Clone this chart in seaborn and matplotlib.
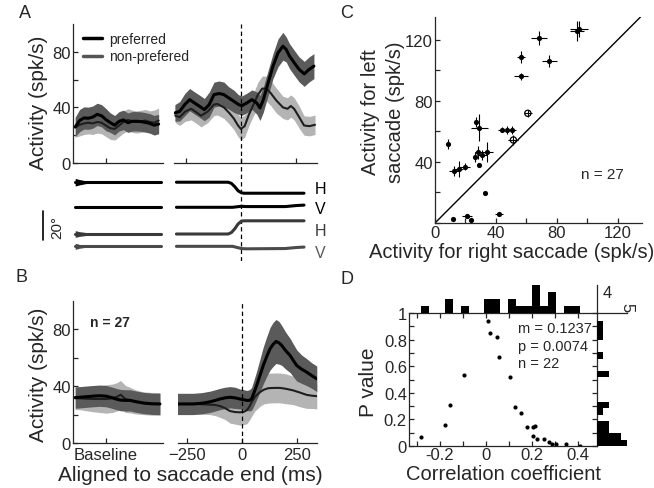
import numpy as np
import pandas as pd
import matplotlib
matplotlib.use("Agg")
import matplotlib.pyplot as plt
from matplotlib.lines import Line2D
import seaborn as sns

# ---------------- data ----------------
# A: example cell, baseline window (ms, spk/s)
a_base_t = [10, 30, 50, 70, 90, 110, 130, 150, 170, 190, 210, 230, 250, 270, 290, 310, 330, 350, 370, 390]
a_base_pref = [26, 30.5, 32.4, 32.2, 33, 35, 34, 31.2, 29, 27.2, 30, 31, 29, 30, 30, 29.8, 29.2, 28.5, 27.2, 28]
a_base_pref_sem = [7, 8, 8, 8, 8, 8, 8, 8, 7, 7, 7, 7, 7, 7, 7, 7, 7, 7, 7, 7]
a_base_nonp = [25.5, 27.5, 28.5, 29, 28.5, 29.5, 29, 27, 25, 24.5, 27, 29.5, 31, 30, 29.5, 30, 30.5, 29.5, 29, 30.5]
a_base_nonp_sem = [7, 8, 8, 8, 8, 8, 8, 8, 8, 8, 8, 8, 8, 8, 8, 8, 8, 8, 9, 9]

# A: aligned to saccade end
a_sac_t_pref = [-302, -280, -257, -235, -213, -190, -168, -146, -124, -101, -79, -57, -34, -12, 3,
                25, 48, 70, 85, 100, 122, 144, 167, 189, 204, 219, 241, 263, 286, 308, 330]
a_sac_pref = [36, 37.2, 42, 45.6, 43.2, 40.8, 38.4, 42, 49.2, 50, 49.2, 46.8, 44.4, 42, 41.3,
              43.2, 45.6, 43.2, 39.6, 45.6, 57.7, 69.7, 79.3, 84, 81.7, 76.9, 72, 67.3, 64.1, 67.3, 69.7]
a_sac_pref_sem = [6, 7, 8, 8, 8, 8, 8, 9, 9, 9, 9, 8, 8, 7, 7,
                  7, 7, 8, 9, 9, 9, 9, 10, 10, 9, 9, 9, 9, 9, 9, 9]
a_sac_t_nonp = [-300, -280, -255, -228, -200, -183, -153, -125, -109, -79, -55, -34, -15, -2, 15,
                35, 55, 75, 95, 115, 135, 159, 189, 210, 225, 240, 263, 285, 310, 335]
a_sac_nonp = [34, 33, 37, 39, 36, 34, 37, 42, 42.5, 40, 36, 32, 27, 24.5, 26.5,
              35, 42, 49, 53.5, 53.5, 50, 45, 40, 39, 41, 39, 33, 27, 26.5, 27.5]
a_sac_nonp_sem = [5, 6, 7, 8, 8, 8, 8, 8, 8, 8, 8, 8, 8, 8, 8,
                  8, 8, 9, 9, 9, 9, 9, 8, 8, 8, 8, 8, 7, 7, 7]

# A: eye position traces (deg, relative to start)
eye_base_t = [10, 30, 60, 100, 400]
eye_base_pos = [0, 0, 0, 0, 0]
eye_base_spread_h1 = [2.6, 1.8, 0.9, 0.2, 0.2]
eye_base_spread_v1 = [0.6, 0.4, 0.2, 0.1, 0.1]
eye_base_spread_h2 = [2.3, 1.6, 1.0, 0.5, 0.2]
eye_base_spread_v2 = [2.1, 1.3, 0.6, 0.2, 0.2]
eye_h_t = [-295, -60, -45, -30, -15, 0, 12, 285]
eye_h1 = [0, 0, -0.8, -3.0, -5.8, -7.2, -7.5, -7.5]
eye_h2 = [0, 0, 1.0, 3.5, 6.8, 8.7, 9.0, 9.0]
eye_v_t = [-295, -40, 0, 20, 200, 250, 285]
eye_v1 = [0, 0, 0.7, 0.5, 0.5, 1.2, 1.5]
eye_v2 = [0, 0, -1.5, -1.7, -1.5, -0.8, -0.5]

# B: population (n = 27)
b_base_t = [10, 31, 60, 91, 120, 150, 180, 200, 217, 239, 260, 284, 320, 360, 396]
b_base_pref = [32, 32.2, 32.6, 33, 33.3, 33, 31.8, 30.8, 30.2, 30, 30, 29.2, 28.2, 27.6, 27.5]
b_base_pref_sem = [7.5, 7.5, 7.5, 7.5, 7.5, 7.5, 7.5, 7.5, 7.5, 7.5, 7.5, 7.5, 7.5, 7.5, 7.5]
b_base_nonp = [31.5, 31.5, 31.2, 31, 31, 31, 31.5, 32.5, 34, 31, 30.2, 29, 28, 27.6, 27.5]
b_base_nonp_sem = [8, 8, 8.5, 9, 9.5, 10, 10, 10, 10, 9.5, 9, 8.5, 8, 8, 8]

b_sac_t_pref = [-295, -250, -220, -180, -144, -120, -98, -75, -53, -30, -8, 10, 23, 35, 45, 55, 68,
                83, 98, 114, 129, 143, 156, 170, 182, 200, 220, 235, 250, 272, 295, 318, 341]
b_sac_pref = [27.5, 27.5, 27.5, 28, 29, 30, 31, 31.8, 32.2, 31.8, 31, 30.5, 30, 30, 31, 35, 40.5,
              47.5, 54.6, 61, 66.4, 69.5, 71.5, 70.5, 68.7, 65, 61.6, 58, 54.6, 52, 49.9, 47.5, 45.2]
b_sac_pref_sem = [7.5, 7.5, 7.5, 7.5, 7.5, 7.5, 7.5, 7.5, 7.5, 7.5, 7, 7, 7, 7.5, 8, 9, 10,
                  11.5, 13, 14, 15, 15.5, 15.5, 15, 14, 13, 12, 11.5, 11, 10, 9.5, 9, 9]
b_sac_t_nonp = [-295, -250, -200, -144, -120, -98, -75, -53, -30, -8, 10, 23, 35,
                45, 60, 83, 100, 121, 150, 174, 200, 235, 265, 295, 320, 341]
b_sac_nonp = [27.5, 27.5, 27.5, 27, 26.8, 26, 24.5, 22.5, 21.8, 21.6, 22, 23, 25.5,
              28.7, 32.5, 35.8, 37.5, 38.6, 38.8, 38.8, 38.2, 37, 35.5, 33.9, 33.3, 33]
b_sac_nonp_sem = [7, 7, 7, 7, 7.5, 8, 8, 8.5, 8.5, 9, 9, 9.5, 9.5,
                  10, 10, 10, 10, 10.5, 10.5, 10.5, 10.5, 10, 10, 9.5, 9, 9]

# C: activity for right vs left saccades (spk/s) with error bars
c_right = [8.8, 12.5, 16, 19.7, 12, 20.8, 23.5, 26.3, 28.1, 30.7, 34, 29.2, 27.2, 29.2,
           32.9, 42.3, 43.9, 47.2, 50.4, 51.5, 61, 56.4, 56.4, 68.4, 75.2, 93.2, 94.7]
c_left = [52, 33.9, 35.4, 36.9, 2.6, 4.8, 2.2, 43.5, 46.3, 44.8, 46.3, 38.2, 66.4, 62.5,
          19.5, 5.9, 61.2, 61.2, 61.2, 54.4, 71.9, 109, 96.2, 121.3, 106.2, 126.1, 127.2]
c_right_err = [0.5, 3.3, 2.6, 3.3, 0, 3.3, 0, 1, 1.5, 3.3, 4.4, 0, 1, 5.5,
               0.5, 2.6, 2.6, 2.6, 2.6, 3.3, 2.6, 2.6, 4.8, 5.5, 4.8, 4.8, 6.1]
c_left_err = [3.3, 3.3, 5.5, 2.2, 0, 1, 0, 3.3, 4.4, 3.3, 6.6, 0, 3.3, 8.8,
              0.5, 0.5, 1.5, 2.6, 2.6, 3.3, 2.2, 4, 2.2, 4.4, 4, 6.6, 5.5]
c_open = [0, 0, 0, 0, 0, 0, 0, 0, 0, 0, 0, 0, 0, 0,
          0, 0, 0, 0, 0, 1, 1, 0, 0, 0, 0, 0, 0]

# D: correlation coefficient vs P value (n = 22)
d_r = [-0.284, -0.178, -0.155, -0.096, 0.010, 0.017, 0.049, 0.057, 0.106, 0.125, 0.154,
       0.177, 0.203, 0.212, 0.203, 0.220, 0.252, 0.273, 0.286, 0.304, 0.347, 0.409]
d_p = [0.065, 0.155, 0.305, 0.532, 0.937, 0.853, 0.823, 0.672, 0.521, 0.295, 0.245,
       0.14, 0.14, 0.152, 0.075, 0.05, 0.055, 0.033, 0.013, 0.013, 0.013, 0.002]

rate_ticks = [0, 20, 40, 60, 80]
rate_labels = ["0", "", "40", "", "80"]
sac_ticks = [-250, 0, 250]
sac_labels = ["\u2212250", "0", "250"]
c_ticks = [0, 20, 40, 60, 80, 100, 120]
c_xlabels = ["0", "", "40", "", "80", "", "120"]
c_ylabels = ["", "", "40", "", "80", "", "120"]
d_xticks = [-0.3, -0.2, -0.1, 0, 0.1, 0.2, 0.3, 0.4]
d_xlabels = ["", "-0.2", "", "0", "", "0.2", "", "0.4"]
d_yticks = [0, 0.1, 0.2, 0.3, 0.4, 0.5, 0.6, 0.7, 0.8, 0.9, 1.0]
d_ylabels = ["0", "", "0.2", "", "0.4", "", "0.6", "", "0.8", "", "1"]

# ---------------- style ----------------
sns.set_style("ticks")
plt.rcParams["font.family"] = ["Liberation Sans", "DejaVu Sans"]
plt.rcParams["axes.linewidth"] = 0.9

DARK = "#5a5a5a"
LIGHT = "#b4b4b4"
NONP_LINE = "#1e1e1e"

W, H = 654, 489
fig = plt.figure(figsize=(W / 100, H / 100), dpi=100)


def box(l, t, r, b):
    return [l / W, 1 - b / H, (r - l) / W, (b - t) / H]


def ftext(x, y, s, **kw):
    fig.text(x / W, 1 - y / H, s, **kw)


def band(ax, t, m, s, col):
    m = np.asarray(m, float)
    s = np.asarray(s, float)
    ax.fill_between(t, m - s, m + s, color=col, linewidth=0, zorder=1)


def line(ax, t, m, col, lw):
    sns.lineplot(x=t, y=m, ax=ax, color=col, linewidth=lw, estimator=None, sort=False, zorder=3)


def tick_style(ax, **kw):
    ax.tick_params(direction="in", length=3.5, width=0.9, labelsize=12, pad=1.5, **kw)


def rate_panel(ax_b, ax_s, base, sac, xlim_sac, labels):
    t0, pm, ps, nm, ns = base
    band(ax_b, t0, nm, ns, LIGHT)
    band(ax_b, t0, pm, ps, DARK)
    line(ax_b, t0, nm, NONP_LINE, 1.5)
    line(ax_b, t0, pm, "black", 2.2)
    tp, pm, ps, tn, nm, ns = sac
    band(ax_s, tn, nm, ns, LIGHT)
    band(ax_s, tp, pm, ps, DARK)
    line(ax_s, tn, nm, NONP_LINE, 1.5)
    line(ax_s, tp, pm, "black", 2.2)
    ax_s.axvline(0, color="black", lw=0.9, ls=(0, (3.5, 2.5)), zorder=4)
    for ax in (ax_b, ax_s):
        ax.set_ylim(0, 100)
        ax.patch.set_alpha(0)
        tick_style(ax)
    ax_b.set_xlim(0, 410)
    ax_b.set_xticks([150])
    ax_b.set_yticks(rate_ticks)
    ax_b.set_yticklabels(rate_labels)
    sns.despine(ax=ax_b)
    ax_s.set_xlim(*xlim_sac)
    ax_s.set_xticks(sac_ticks)
    ax_s.set_yticks([])
    sns.despine(ax=ax_s, left=True)
    if labels:
        ax_b.set_xticklabels(["Baseline"])
        ax_s.set_xticklabels(sac_labels)
        ax_b.tick_params(axis="x", pad=3)
        ax_s.tick_params(axis="x", pad=3)
    else:
        ax_b.set_xticklabels([])
        ax_s.set_xticklabels([])


# ---------------- panel A ----------------
axA0 = fig.add_axes(box(73, 25, 163, 164))
axA1 = fig.add_axes(box(174, 25, 317, 164))
rate_panel(axA0, axA1,
           (a_base_t, a_base_pref, a_base_pref_sem, a_base_nonp, a_base_nonp_sem),
           (a_sac_t_pref, a_sac_pref, a_sac_pref_sem, a_sac_t_nonp, a_sac_nonp, a_sac_nonp_sem),
           (-306, 344), False)
handles = [Line2D([], [], color="black", lw=2.5), Line2D([], [], color="#555555", lw=2.5)]
fig.legend(handles, ["preferred", "non-prefered"], loc="upper left",
           bbox_to_anchor=(83 / W, 1 - 33 / H), bbox_transform=fig.transFigure,
           frameon=False, fontsize=10, handlelength=1.4, handletextpad=0.5,
           labelspacing=0.25, borderpad=0, borderaxespad=0)

# eye traces
axE0 = fig.add_axes(box(73, 164, 163, 262))
axE1 = fig.add_axes(box(174, 164, 317, 262))
eye_rows = [  # (offset deg, colour, sac t, sac trace, baseline spread)
    (53.7, "black", eye_h_t, eye_h1, eye_base_spread_h1),
    (36.6, "black", eye_v_t, eye_v1, eye_base_spread_v1),
    (18.4, "#3a3a3a", eye_h_t, eye_h2, eye_base_spread_h2),
    (10.0, "#4a4a4a", eye_v_t, eye_v2, eye_base_spread_v2),
]
for off, col, et, ey, spread in eye_rows:
    base = np.asarray(eye_base_pos, float) + off
    sp = np.asarray(spread, float)
    axE0.fill_between(eye_base_t, base - sp, base + sp, color=col, linewidth=0)
    line(axE0, eye_base_t, base, col, 2.2)
    line(axE1, et, np.asarray(ey, float) + off, col, 2.2)
axE1.axvline(0, color="black", lw=0.9, ls=(0, (3.5, 2.5)))
axE0.set_xlim(0, 410)
axE1.set_xlim(-306, 344)
for ax in (axE0, axE1):
    ax.set_ylim(0, 66.8)
    ax.axis("off")
# 20 deg scale bar
axE0.plot([-135, -135], [14.3, 34.3], color="black", lw=1.2, clip_on=False)
axE0.text(-72, 23.5, "20\u00b0", rotation=90, ha="center", va="center", fontsize=11)
for lab, yy, col in [("H", 190, "black"), ("V", 210, "black"), ("H", 232, "#3a3a3a"), ("V", 254, "#5a5a5a")]:
    ftext(320, yy, lab, ha="center", va="center", fontsize=11.5, color=col)

# ---------------- panel B ----------------
axB0 = fig.add_axes(box(73, 302, 163, 444))
axB1 = fig.add_axes(box(178, 302, 317, 444))
rate_panel(axB0, axB1,
           (b_base_t, b_base_pref, b_base_pref_sem, b_base_nonp, b_base_nonp_sem),
           (b_sac_t_pref, b_sac_pref, b_sac_pref_sem, b_sac_t_nonp, b_sac_nonp, b_sac_nonp_sem),
           (-289, 342), True)
ftext(90, 323, "n = 27", ha="left", va="center", fontsize=10, fontweight="bold")

ftext(39, 103, "Activity (spk/s)", rotation=90, ha="center", va="center", fontsize=15)
ftext(39, 375, "Activity (spk/s)", rotation=90, ha="center", va="center", fontsize=15)
ftext(190, 476, "Aligned to saccade end (ms)", ha="center", va="center", fontsize=15)

# ---------------- panel C ----------------
axC = fig.add_axes(box(435, 18, 642, 224))
dfc = pd.DataFrame({"right": c_right, "left": c_left, "xerr": c_right_err,
                    "yerr": c_left_err, "open": c_open})
axC.axline((0, 0), slope=1, color="black", lw=1.0, zorder=1)
axC.errorbar(dfc["right"], dfc["left"], xerr=dfc["xerr"], yerr=dfc["yerr"],
             fmt="none", ecolor="black", elinewidth=0.8, capsize=0, zorder=2)
sns.scatterplot(data=dfc[dfc["open"] == 0], x="right", y="left", ax=axC, color="black",
                s=14, linewidth=0, zorder=3)
sns.scatterplot(data=dfc[dfc["open"] == 1], x="right", y="left", ax=axC, facecolor="none",
                edgecolor="black", s=20, linewidth=0.9, zorder=3)
axC.set(xlabel="", ylabel="")
axC.set_xlim(0, 136)
axC.set_ylim(0, 135)
axC.set_xticks(c_ticks)
axC.set_xticklabels(c_xlabels)
axC.set_yticks(c_ticks)
axC.set_yticklabels(c_ylabels)
tick_style(axC)
sns.despine(ax=axC)
ftext(602, 175, "n = 27", ha="center", va="center", fontsize=11)
ftext(383, 112, "Activity for left\nsaccade (spk/s)", rotation=90, ha="center", va="center",
      fontsize=14.5, linespacing=1.35)
ftext(512, 252, "Activity for right saccade (spk/s)", ha="center", va="center", fontsize=14.5)

# ---------------- panel D ----------------
axD = fig.add_axes(box(409, 314, 597, 447))
axDt = fig.add_axes(box(409, 286, 597, 314), sharex=axD)
axDr = fig.add_axes(box(597, 314, 627, 447), sharey=axD)
sns.scatterplot(x=d_r, y=d_p, ax=axD, color="black", s=9, linewidth=0)
sns.histplot(x=d_r, bins=20, ax=axDt, color="black", alpha=1, edgecolor="none", linewidth=0)
sns.histplot(y=d_p, bins=20, ax=axDr, color="black", alpha=1, edgecolor="none", linewidth=0)
axD.set_xlim(-0.335, 0.483)
axD.set_ylim(0, 1)
axD.set_xticks(d_xticks)
axD.set_xticklabels(d_xlabels)
axD.set_yticks(d_yticks)
axD.set_yticklabels(d_ylabels)
tick_style(axD, top=True, right=True)
axD.tick_params(axis="x", pad=1)
axD.set(xlabel="", ylabel="")

axDt.set_ylim(0, 4)
axDt.set(xlabel="", ylabel="")
for s in ("left", "top", "bottom"):
    axDt.spines[s].set_visible(False)
axDt.tick_params(axis="x", bottom=False, labelbottom=False)
axDt.yaxis.tick_right()
axDt.set_yticks([4])
axDt.set_yticklabels(["4"])
axDt.tick_params(axis="y", length=0, labelsize=12, pad=4)
axDt.yaxis.get_ticklabels()[0].set_verticalalignment("top")
axDt.patch.set_alpha(0)

axDr.set_xlim(0, 5)
axDr.set(xlabel="", ylabel="")
for s in ("left", "right", "bottom"):
    axDr.spines[s].set_visible(False)
axDr.tick_params(axis="y", left=False, labelleft=False)
axDr.xaxis.tick_top()
axDr.set_xticks([5])
axDr.set_xticklabels(["5"], rotation=-90)
axDr.tick_params(axis="x", length=0, labelsize=12, pad=1)
axDr.patch.set_alpha(0)

ftext(518, 329, "m = 0.1237", ha="left", va="center", fontsize=10.5)
ftext(518, 347, "p = 0.0074", ha="left", va="center", fontsize=10.5)
ftext(518, 364, "n = 22", ha="left", va="center", fontsize=10.5)
ftext(369, 382, "P value", rotation=90, ha="center", va="center", fontsize=15)
ftext(504, 475, "Correlation coefficient", ha="center", va="center", fontsize=14.5)

# panel letters
for lab, x, y in [("A", 25, 14), ("B", 22, 278), ("C", 347, 14), ("D", 347, 279)]:
    ftext(x, y, lab, ha="center", va="center", fontsize=13)

fig.savefig("out.png", dpi=100)
